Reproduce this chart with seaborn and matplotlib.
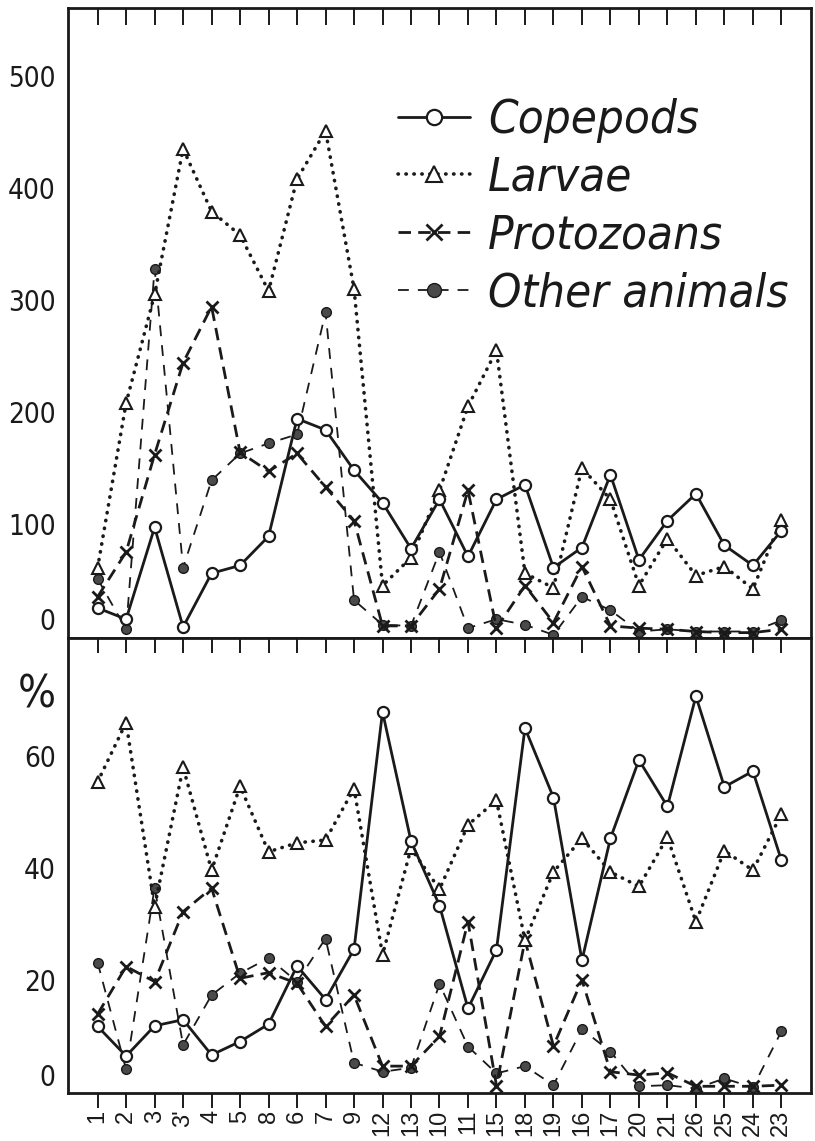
import os
import numpy as np
import pandas as pd
import matplotlib
matplotlib.use("Agg")
import matplotlib.pyplot as plt
import seaborn as sns
from matplotlib.lines import Line2D
from matplotlib.font_manager import FontProperties, fontManager

# ---------------- data ----------------
stations = ["1", "2", "3", "3'", "4", "5", "8", "6", "7", "9", "12", "13", "10",
            "11", "15", "18", "19", "16", "17", "20", "21", "26", "25", "24", "23"]

# upper panel: numbers
num_copepods = [25, 15, 97, 8, 56, 63, 89, 194, 184, 148, 119, 78, 122, 71, 122,
                135, 61, 79, 144, 68, 103, 127, 81, 63, 94]
num_larvae = [61, 208, 305, 435, 379, 358, 308, 408, 451, 310, 45, 70, 130, 205,
              255, 56, 43, 150, 122, 45, 87, 54, 62, 42, 104]
num_protozoans = [35, 75, 162, 244, 294, 164, 147, 163, 133, 103, 9, 9, 42, 130,
                  7, 45, 12, 62, 9, 7, 6, 4, 3, 3, 6]
num_other = [51, 6, 328, 61, 139, 163, 172, 180, 289, 32, 10, 9, 75, 7, 15, 10,
             1, 35, 23, 4, 6, 4, 4, 4, 14]

# lower panel: percentages
pct_copepods = [11.7, 6.4, 11.8, 12.9, 6.6, 9.0, 12.1, 22.5, 16.5, 25.5, 67.9,
                44.8, 33.3, 14.9, 25.4, 65.0, 52.6, 23.5, 45.3, 59.3, 51.0, 70.7,
                54.5, 57.3, 41.4]
pct_larvae = [55.4, 66.0, 33.1, 58.0, 39.6, 54.6, 42.9, 44.5, 45.0, 54.2, 24.5,
              43.5, 36.2, 47.7, 52.1, 27.1, 39.3, 45.3, 39.3, 36.7, 45.5, 30.4,
              43.1, 39.6, 49.6]
pct_protozoans = [13.9, 22.4, 19.7, 32.2, 36.4, 20.3, 21.3, 19.4, 11.7, 17.3, 4.6,
                  4.6, 9.9, 30.4, 1.1, 27.1, 8.2, 20.0, 3.6, 3.0, 3.4, 1.0, 1.0,
                  1.0, 1.2]
pct_other = [23.1, 4.0, 36.5, 8.4, 17.3, 21.2, 23.9, 19.7, 27.4, 5.2, 3.6, 4.3,
             19.3, 8.1, 3.3, 4.6, 1.2, 11.2, 7.2, 1.0, 1.2, 0.6, 2.4, 0.8, 10.8]

series_names = ["Copepods", "Larvae", "Protozoans", "Other animals"]
upper_ticks = [0, 100, 200, 300, 400, 500]
lower_ticks = [0, 20, 40, 60]

# ---------------- style ----------------
sns.set_theme(style="white")
FAM = ["Liberation Sans", "DejaVu Sans"]
plt.rcParams["font.family"] = FAM
plt.rcParams["text.color"] = "k"
plt.rcParams["axes.labelcolor"] = "k"
plt.rcParams["xtick.color"] = "k"
plt.rcParams["ytick.color"] = "k"
plt.rcParams["axes.edgecolor"] = "k"


def find_narrow(italic):
    """Look for an installed narrow / condensed regular-weight face."""
    best = None
    for f in fontManager.ttflist:
        nm = f.name.lower()
        fn = os.path.basename(f.fname).lower()
        narrow = ("narrow" in nm or "condensed" in nm or "narrow" in fn
                  or "condensed" in fn
                  or str(f.stretch) in ("condensed", "semi-condensed",
                                        "extra-condensed", "ultra-condensed"))
        if not narrow:
            continue
        w = f.weight
        try:
            w = int(w)
        except (TypeError, ValueError):
            w = {"normal": 400, "regular": 400, "book": 400, "medium": 500}.get(str(w), 700)
        if w < 350 or w > 500:
            continue
        is_it = f.style in ("italic", "oblique")
        if is_it != italic:
            continue
        rank = 0 if "liberation" in nm else (1 if "dejavu" in nm else 2)
        if best is None or rank < best[0]:
            best = (rank, f.fname)
    return best[1] if best else None


narrow_reg = find_narrow(False)
narrow_it = find_narrow(True)

if narrow_reg:
    tick_fp = FontProperties(fname=narrow_reg, size=20)
    pct_fp = FontProperties(fname=narrow_reg, size=32)
else:
    tick_fp = FontProperties(family=FAM, size=20)
    pct_fp = FontProperties(family=FAM, size=30)
if narrow_it:
    leg_size = 34
    leg_fp = FontProperties(fname=narrow_it, size=leg_size)
else:
    leg_size = 32
    leg_fp = FontProperties(family=FAM, style="italic", size=leg_size)

styles = {
    "Copepods": dict(color="k", lw=2.0, linestyle="-", marker="o",
                     markerfacecolor="white", markeredgecolor="k",
                     markeredgewidth=1.6, markersize=8),
    "Larvae": dict(color="k", lw=2.6, linestyle=(0, (0.1, 2.1)),
                   dash_capstyle="round", marker="^", markerfacecolor="white",
                   markeredgecolor="k", markeredgewidth=1.5, markersize=9),
    "Protozoans": dict(color="k", lw=2.0, linestyle=(0, (4.5, 2.6)), marker="x",
                       markeredgecolor="k", markeredgewidth=2.0, markersize=8),
    "Other animals": dict(color="k", lw=1.3, linestyle=(0, (6, 5)), marker="o",
                          markerfacecolor="#4a4a4a", markeredgecolor="k",
                          markeredgewidth=1.0, markersize=7),
}

W, H = 815, 1141
fig = plt.figure(figsize=(W / 100, H / 100), dpi=100)
L, R = 68, 811
ax1 = fig.add_axes([L / W, 1 - 638 / H, (R - L) / W, (638 - 8) / H])
ax2 = fig.add_axes([L / W, 1 - 1093 / H, (R - L) / W, (1093 - 638) / H])

xpos = np.arange(len(stations))
upper = pd.DataFrame({"x": xpos, "Copepods": num_copepods, "Larvae": num_larvae,
                      "Protozoans": num_protozoans, "Other animals": num_other})
lower = pd.DataFrame({"x": xpos, "Copepods": pct_copepods, "Larvae": pct_larvae,
                      "Protozoans": pct_protozoans, "Other animals": pct_other})

draw_order = ["Other animals", "Protozoans", "Larvae", "Copepods"]
for ax, df in ((ax1, upper), (ax2, lower)):
    for name in draw_order:
        sns.lineplot(data=df, x="x", y=name, ax=ax, errorbar=None, legend=False,
                     **styles[name])
    ax.set_xlabel("")
    ax.set_ylabel("")
    ax.set_xlim(-1.04, 25.04)
    for sp in ax.spines.values():
        sp.set_visible(True)
        sp.set_linewidth(2.0)
        sp.set_color("k")

ax1.set_ylim(-1.8, 560.7)
ax2.set_ylim(-0.2, 81.1)

ax1.set_yticks(upper_ticks)
ax1.set_yticklabels([str(t) for t in upper_ticks], fontproperties=tick_fp, color="k")
ax2.set_yticks(lower_ticks)
ax2.set_yticklabels([str(t) for t in lower_ticks], fontproperties=tick_fp, color="k")
for ax in (ax1, ax2):
    ax.tick_params(axis="y", length=0, pad=9, colors="k")
    ax.yaxis.get_major_ticks()[0].label1.set_verticalalignment("bottom")

ax2.text(-0.016, 71, "%", transform=ax2.get_yaxis_transform(), ha="right",
         va="center", fontproperties=pct_fp, color="k")

# x ticks
ax1.set_xticks(xpos)
ax1.tick_params(axis="x", direction="in", top=True, bottom=False, length=12,
                width=1.4, labeltop=False, labelbottom=False, colors="k")
ax2.set_xticks(xpos)
ax2.set_xticklabels(stations, rotation=90, family=["Liberation Sans", "DejaVu Sans"],
                    fontsize=17, color="k")
ax2.tick_params(axis="x", direction="out", bottom=True, top=False, length=11,
                width=1.4, pad=1, colors="k")
sec = ax2.secondary_xaxis("top")
sec.set_xticks(xpos)
sec.tick_params(axis="x", direction="in", length=11, width=1.4, labeltop=False,
                colors="k")
sec.spines["top"].set_visible(False)

# legend
F_px = leg_size * 100 / 72.0
handles = []
for name in series_names:
    st = dict(styles[name])
    st["markersize"] = st["markersize"] + 3
    handles.append(Line2D([], [], **st))
leg = ax1.legend(handles, series_names, loc="upper left",
                 bbox_to_anchor=(398 / W, 1 - (121 - 0.48 * F_px) / H),
                 bbox_transform=fig.transFigure,
                 frameon=False, borderpad=0, borderaxespad=0, prop=leg_fp,
                 handlelength=72 / F_px, handletextpad=18 / F_px,
                 labelspacing=(57 - 0.94 * F_px) / F_px, labelcolor="k")

fig.savefig("out.png", dpi=100)
